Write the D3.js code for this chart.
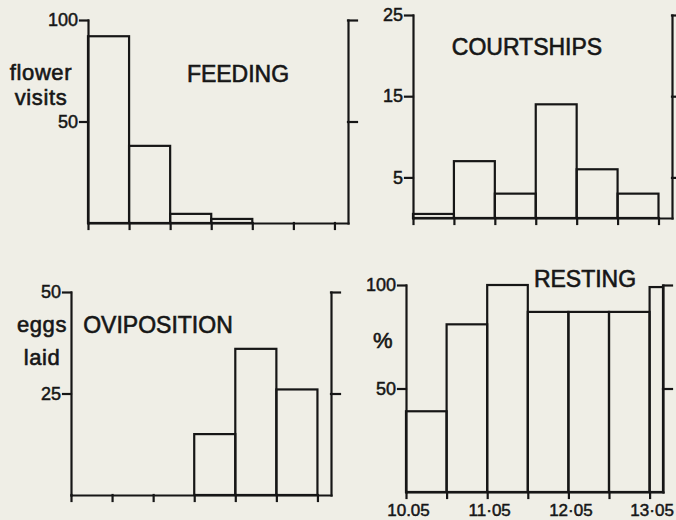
<!DOCTYPE html>
<html>
<head>
<meta charset="utf-8">
<script src="https://cdn.jsdelivr.net/npm/d3@7"></script>
<style>
  body { margin: 0; background: #efeee6; }
  svg { display: block; font-family: "Liberation Sans", Arial, sans-serif; }
  .axis path, .axis line { stroke: #161616; stroke-width: 2.2; stroke-linecap: square; }
  .axis text { font-size: 18px; fill: #161616; stroke: #161616; stroke-width: 0.5; }
  .title { font-size: 23px; fill: #161616; stroke: #161616; stroke-width: 0.6; }
  .ylab { font-size: 22px; letter-spacing: 0.6px; fill: #161616; stroke: #161616; stroke-width: 0.6; }
</style>
</head>
<body>
<div id="graphic"></div>
<script>
// half-day bins starting at 10.05, the last one is cut short
const binStart = [0, 1, 2, 3, 4, 5, 6];
const binEnd = [1, 2, 3, 4, 5, 6, 6.33];

const feeding = [92, 38, 4.5, 2, 0, 0, 0];
const courtships = [0.5, 7, 3, 14, 6, 3, 0];
const oviposition = [0, 0, 0, 15, 36, 26, 0];
const resting = [39, 81, 100, 87, 87, 87, 99];

const feedingTicks = [50, 100];
const courtshipTicks = [5, 15, 25];
const ovipositionTicks = [25, 50];
const restingTicks = [50, 100];

const dateTicks = [0, 2, 4, 6];
const dateLabels = ["10.05", "11·05", "12·05", "13·05"];

const width = 676;
const height = 520;
const ink = "#161616";

const svg = d3.select("#graphic")
    .append("svg")
    .attr("width", width)
    .attr("height", height);

// layout of the four panels (pixel boxes)
const panels = [
    {values: feeding, ticks: feedingTicks, max: 100, x: [88, 348], y: [223, 20],
     title: "FEEDING", tx: 238, ty: 82, ylabel: ["flower", "visits"], lx: 41, ly: 79.5},
    {values: courtships, ticks: courtshipTicks, max: 25, x: [413, 672], y: [218, 15],
     title: "COURTSHIPS", tx: 527, ty: 55, ylabel: [], lx: 0, ly: 0},
    {values: oviposition, ticks: ovipositionTicks, max: 50, x: [71, 331], y: [495, 292],
     title: "OVIPOSITION", tx: 158, ty: 333, ylabel: ["eggs", "laid"], lx: 42, ly: 332},
    {values: resting, ticks: restingTicks, max: 100, x: [406, 663], y: [492, 285],
     title: "RESTING", tx: 585, ty: 287, ylabel: ["%"], lx: 383, ly: 348, dates: true}
];

// line gap for the stacked y labels
const lineGap = {flower: 0, visits: 25, eggs: 0, laid: 33, "%": 0};

panels.forEach(drawPanel);

function drawPanel(p) {
    const x = d3.scaleLinear().domain([0, 6.33]).range(p.x);
    const y = d3.scaleLinear().domain([0, p.max]).range(p.y);
    const g = svg.append("g");

    const bins = p.values
        .map((v, i) => ({v: v, a: binStart[i], b: binEnd[i]}))
        .filter(d => d.v > 0);

    g.append("g")
        .selectAll("rect")
        .data(bins)
        .join("rect")
        .attr("x", d => x(d.a))
        .attr("width", d => x(d.b) - x(d.a))
        .attr("y", d => y(d.v))
        .attr("height", d => y(0) - y(d.v))
        .attr("fill", "none")
        .attr("stroke", ink)
        .attr("stroke-width", 2.2);

    // left axis with labels
    g.append("g")
        .attr("class", "axis")
        .attr("transform", `translate(${p.x[0]},0)`)
        .call(d3.axisLeft(y).tickValues(p.ticks).tickSize(8).tickPadding(2).tickSizeOuter(0));

    // right axis, ticks only
    g.append("g")
        .attr("class", "axis")
        .attr("transform", `translate(${p.x[1]},0)`)
        .call(d3.axisRight(y).tickValues(p.ticks).tickFormat("").tickSize(9).tickSizeOuter(0));

    // baseline with half-day ticks
    const xAxis = d3.axisBottom(x).tickValues(binStart).tickSize(6).tickSizeOuter(0);
    if (p.dates) {
        xAxis.tickFormat(d => {
            const k = dateTicks.indexOf(d);
            return k < 0 ? "" : dateLabels[k];
        }).tickPadding(6);
    } else {
        xAxis.tickFormat("");
    }
    const xg = g.append("g")
        .attr("class", "axis")
        .attr("transform", `translate(0,${y(0)})`)
        .call(xAxis);
    xg.selectAll("text").style("font-size", "17px").attr("dx", 2);

    g.append("text")
        .attr("class", "title")
        .attr("x", p.tx)
        .attr("y", p.ty)
        .attr("text-anchor", "middle")
        .text(p.title);

    if (p.ylabel.length) {
        const lab = g.append("text")
            .attr("class", "ylab")
            .attr("x", p.lx)
            .attr("y", p.ly)
            .attr("text-anchor", "middle");
        lab.selectAll("tspan")
            .data(p.ylabel)
            .join("tspan")
            .attr("x", p.lx)
            .attr("dy", d => lineGap[d])
            .text(d => d);
    }
}
</script>
</body>
</html>
